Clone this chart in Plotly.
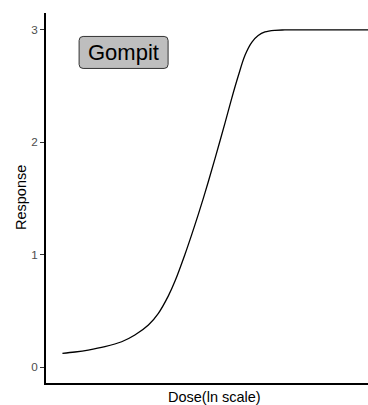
import plotly.graph_objects as go

# Dose on ln scale (arbitrary units) and fitted Gompit response
dose_ln = [0.51, 0.90, 1.31, 1.83, 2.35, 2.76, 3.18, 3.49, 3.80, 4.01, 4.32, 4.52, 4.73,
           4.89, 5.04, 5.25, 5.56, 5.77, 5.97, 6.18, 6.39, 6.59, 6.80, 7.11, 7.42, 8.5, 10.0]
response = [0.122, 0.134, 0.151, 0.181, 0.225, 0.285, 0.374, 0.478, 0.633, 0.767, 1.006,
            1.174, 1.359, 1.506, 1.649, 1.857, 2.173, 2.394, 2.590, 2.775, 2.890, 2.950,
            2.982, 2.997, 3.0, 3.0, 3.0]
y_ticks = [0, 1, 2, 3]
label_text = "Gompit"
label_pos = (2.41, 2.80)
x_title = "Dose(ln scale)"
y_title = "Response"

fig = go.Figure()
fig.add_trace(go.Scatter(x=dose_ln, y=response, mode="lines",
                         line=dict(color="black", width=1.3, shape="spline", smoothing=1.0),
                         hoverinfo="skip", showlegend=False))

w, h, r = 44.5, 16, 4
path = (f"M {-w+r},{-h} L {w-r},{-h} Q {w},{-h} {w},{-h+r} L {w},{h-r} Q {w},{h} {w-r},{h} "
        f"L {-w+r},{h} Q {-w},{h} {-w},{h-r} L {-w},{-h+r} Q {-w},{-h} {-w+r},{-h} Z")
fig.add_shape(type="path", xref="x", yref="y", xsizemode="pixel", ysizemode="pixel",
              xanchor=label_pos[0], yanchor=label_pos[1], path=path,
              fillcolor="#BEBEBE", line=dict(color="#333333", width=1))
fig.add_annotation(x=label_pos[0], y=label_pos[1], text=label_text, showarrow=False,
                   font=dict(family="Liberation Sans, Arial", size=22, color="black"),
                   xanchor="center", yanchor="middle")

fig.add_annotation(xref="paper", yref="paper", x=0.523, y=0, text=x_title, showarrow=False,
                   xanchor="center", yanchor="middle", yshift=-14,
                   font=dict(family="Liberation Sans, Arial", size=14.5, color="black"))
fig.add_annotation(xref="paper", yref="paper", x=0, y=0.5, text=y_title, showarrow=False,
                   xanchor="center", yanchor="middle", xshift=-25, textangle=-90,
                   font=dict(family="Liberation Sans, Arial", size=14.5, color="black"))

fig.update_layout(
    width=368, height=405,
    margin=dict(l=46, r=0, t=13, b=22),
    paper_bgcolor="white", plot_bgcolor="white",
    font=dict(family="Liberation Sans, Arial", color="black"),
    xaxis=dict(range=[0, 10], showgrid=False, zeroline=False, showticklabels=False,
               ticks="", showline=True, linecolor="black", linewidth=1.6),
    yaxis=dict(range=[-0.142, 3.151], showgrid=False, zeroline=False,
               tickvals=y_ticks, ticktext=[str(v) for v in y_ticks],
               ticks="outside", ticklen=4, tickwidth=1.1, tickcolor="#333333",
               tickfont=dict(size=11.7, color="#4D4D4D"),
               showline=True, linecolor="black", linewidth=1.6),
)

fig.write_html("out.html")
